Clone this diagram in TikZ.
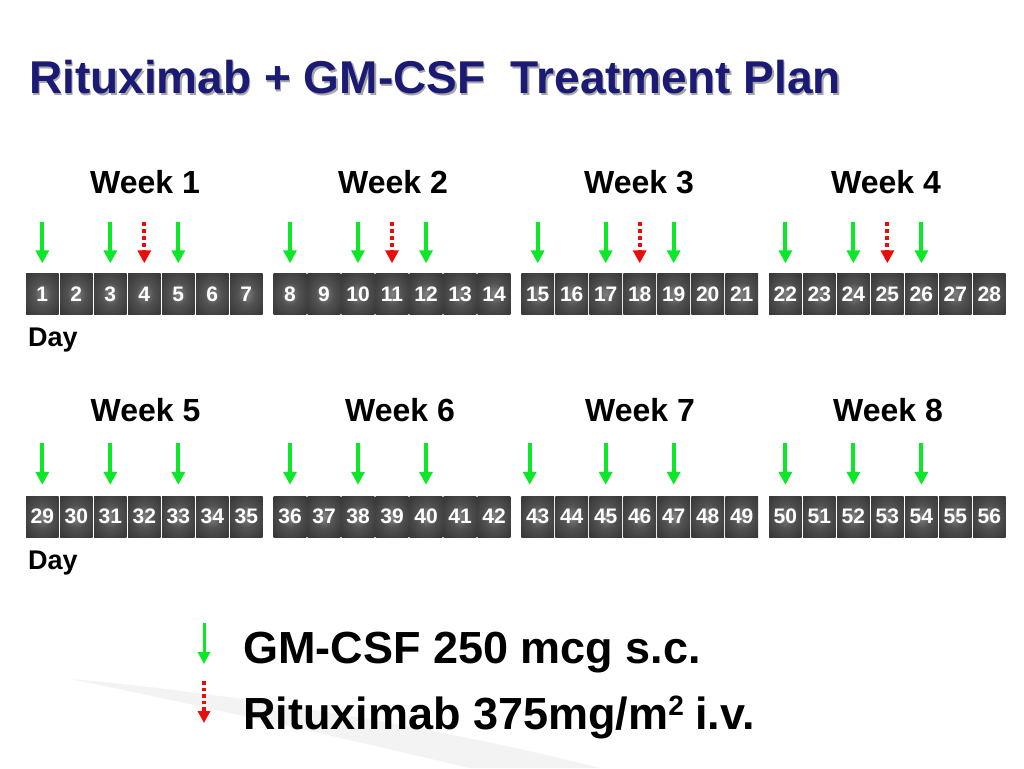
\documentclass[tikz,border=0pt]{standalone}
\usepackage{fontspec}
\setmainfont{Liberation Sans}
\usetikzlibrary{arrows.meta}
\definecolor{navy}{RGB}{27,27,118}
\definecolor{agreen}{RGB}{12,232,40}
\definecolor{ared}{RGB}{232,12,12}
\definecolor{cellin}{RGB}{128,128,128}
\definecolor{cellmid}{RGB}{82,82,82}
\definecolor{cellout}{RGB}{58,58,58}
\definecolor{swoosh}{RGB}{243,243,243}
\pgfdeclareradialshading{cellshade}{\pgfpoint{0bp}{0bp}}{%
  color(0bp)=(cellin); color(14bp)=(cellmid); color(32bp)=(cellout); color(50bp)=(cellout)}
\begin{document}
\begin{tikzpicture}[x=1pt,y=-1pt,
  cell/.style={minimum width=32.6pt,minimum height=41pt,inner sep=0pt,
    shading=cellshade,text=white,
    font=\fontsize{21}{21}\selectfont\bfseries},
  weeklbl/.style={anchor=base,font=\fontsize{32}{32}\selectfont\bfseries},
  daylbl/.style={anchor=base west,inner sep=0pt,font=\fontsize{27}{27}\selectfont\bfseries},
  legtext/.style={anchor=base west,inner sep=0pt,font=\fontsize{45}{45}\selectfont\bfseries},
  garrow/.style={draw=agreen,line width=4pt,-{Triangle[width=13pt,length=13pt]}},
  rarrow/.style={draw=ared,line width=4pt,dash pattern=on 4pt off 3pt,-{Triangle[width=13pt,length=13pt]}},
  glegarrow/.style={draw=agreen,line width=3pt,-{Triangle[width=12pt,length=12pt]}},
  rlegarrow/.style={draw=ared,line width=3.5pt,dash pattern=on 3.5pt off 3pt,-{Triangle[width=12pt,length=12pt]}}
]
\fill[white] (0,0) rectangle (1024,768);
\useasboundingbox (0,0) rectangle (1024,768);
% faint swoosh
\fill[swoosh] (70,679) .. controls (250,695) and (450,730) .. (600,768)
  -- (470,768) .. controls (350,740) and (200,705) .. (70,679) -- cycle;

% title
\node[anchor=base west,inner sep=0pt,text=black!35,font=\fontsize{46}{46}\selectfont\bfseries] (tshadow) at (30.5,95.3) {Rituximab + GM-CSF\ \ Treatment Plan};
\node[anchor=base west,inner sep=0pt,text=navy,font=\fontsize{46}{46}\selectfont\bfseries] (title) at (29,93.3) {Rituximab + GM-CSF\ \ Treatment Plan};

% week labels
\node[weeklbl] (w1) at (145,193) {Week 1};
\node[weeklbl] (w2) at (393,193) {Week 2};
\node[weeklbl] (w3) at (639,193) {Week 3};
\node[weeklbl] (w4) at (886,193) {Week 4};
\node[weeklbl] (w5) at (145.5,421) {Week 5};
\node[weeklbl] (w6) at (400,421) {Week 6};
\node[weeklbl] (w7) at (640,421) {Week 7};
\node[weeklbl] (w8) at (888,421) {Week 8};

% day cells
\foreach \w in {0,...,3}{
  \foreach \d in {0,...,6}{
    \pgfmathtruncatemacro\n{\w*7+\d+1}
    \pgfmathtruncatemacro\m{\n+28}
    \pgfmathsetmacro\xx{26+\w*247.7+\d*34+16.3}
    \node[cell] (c\n) at (\xx,294) {\n};
    \node[cell] (c\m) at (\xx,516.5) {\m};
  }
}

% Day labels
\node[daylbl] (day1) at (28,346) {Day};
\node[daylbl] (day2) at (28,569) {Day};

% arrows row 1
\foreach \n in {1,3,5,8,10,12,15,17,19,22,24,26}{
  \coordinate (a\n) at ([yshift=51.5pt]c\n.north);
  \draw[garrow] (a\n) -- ([yshift=10pt]c\n.north);
}
\foreach \n in {4,11,18,25}{
  \coordinate (a\n) at ([yshift=51.5pt]c\n.north);
  \draw[rarrow] (a\n) -- ([yshift=10pt]c\n.north);
}
% arrows row 2
\foreach \n in {29,31,33,36,38,40,45,47,50,52,54}{
  \coordinate (a\n) at ([yshift=53pt]c\n.north);
  \draw[garrow] (a\n) -- ([yshift=11pt]c\n.north);
}
\coordinate (a43) at ([xshift=-8pt,yshift=53pt]c43.north);
\draw[garrow] (a43) -- ([xshift=-8pt,yshift=11pt]c43.north);

% legend
\coordinate (lg1) at (204,623);
\coordinate (lg2) at (204,664);
\coordinate (lr1) at (204,681);
\coordinate (lr2) at (204,723);
\draw[glegarrow] (lg1) -- (lg2);
\draw[rlegarrow] (lr1) -- (lr2);
\node[legtext] (leg1) at (243,663) {GM-CSF 250 mcg s.c.};
\node[legtext] (leg2) at (243,729) {Rituximab 375mg/m\raisebox{0.3em}{\fontsize{28}{28}\selectfont 2}\hspace{-1pt} i.v.};
\end{tikzpicture}
\end{document}
